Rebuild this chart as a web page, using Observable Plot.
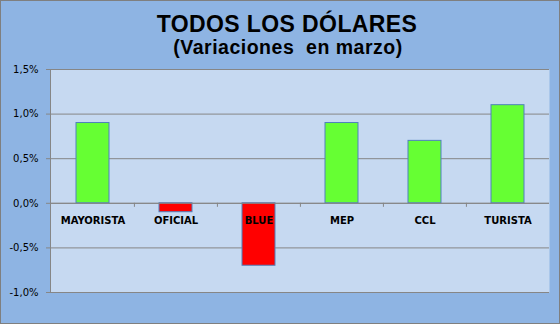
<!DOCTYPE html>
<html>
<head>
<meta charset="utf-8">
<script src="https://cdn.jsdelivr.net/npm/d3@7"></script>
<script src="https://cdn.jsdelivr.net/npm/@observablehq/plot@0.6"></script>
<style>
  html, body { margin: 0; padding: 0; background: #fff; }
  #wrap { position: relative; width: 560px; height: 324px; background: #8EB4E3; box-shadow: inset 0 0 0 1px #7f7f7f; overflow: hidden; }
  #wrap svg { position: absolute; left: 0; top: 0; }
  .t { position: absolute; width: 560px; text-align: center; font-family: "Liberation Sans", Arial, sans-serif; font-weight: bold; color: #000; white-space: nowrap; }
  #title { top: 12.5px; left: 7px; font-size: 23px; line-height: 23px; letter-spacing: 0.4px; }
  #subtitle { top: 37.5px; left: 8px; font-size: 19.5px; line-height: 19.5px; letter-spacing: 0.5px; }
</style>
</head>
<body>
<div id="wrap">
  <div class="t" id="title">TODOS LOS DÓLARES</div>
  <div class="t" id="subtitle">(Variaciones&nbsp; en marzo)</div>
</div>
<script>
const categories = ["MAYORISTA", "OFICIAL", "BLUE", "MEP", "CCL", "TURISTA"];
const values = [0.9, -0.1, -0.7, 0.9, 0.7, 1.1];
const yTicks = [-1, -0.5, 0, 0.5, 1, 1.5];

const data = categories.map((c, i) => ({cat: c, val: values[i]}));

const W = 560, H = 324, mL = 50, mR = 11, mT = 69, mB = 32;
const band = (W - mL - mR) / categories.length;
const fmt = d => d.toFixed(1).replace(".", ",") + "%";

const chart = Plot.plot({
  width: W, height: H,
  marginTop: mT, marginBottom: mB, marginLeft: mL, marginRight: mR,
  style: {background: "transparent", fontFamily: "DejaVu Sans", fontSize: "10px", color: "#000", overflow: "visible"},
  x: {type: "band", domain: categories, padding: 0, axis: null},
  y: {domain: [-1, 1.5], axis: null},
  color: {type: "identity"},
  marks: [
    Plot.frame({fill: "#C6D9F1", stroke: null}),
    Plot.ruleY(yTicks, {stroke: "#868686", strokeWidth: 1}),
    Plot.frame({anchor: "left", stroke: "#868686"}),
    Plot.axisY({ticks: yTicks, tickSize: 4, tickPadding: 8, tickFormat: fmt, label: null, stroke: "#868686", fill: "#000", fontSize: 10}),
    Plot.barY(data, {
      x: "cat", y: "val",
      fill: d => d.val < 0 ? "#FF0000" : "#66FF33",
      stroke: "#4F81BD", strokeWidth: 1,
      insetLeft: 25, insetRight: 25
    }),
    Plot.ruleY([0], {stroke: "#868686", strokeWidth: 1}),
    Plot.ruleX(categories.slice(1), {x: d => d, y1: 0, y2: -0.045, dx: -band / 2, stroke: "#868686"}),
    Plot.text(data, {x: "cat", y: () => 0, text: "cat", dy: 17, fontWeight: "bold", fontSize: 10, fill: "#000"})
  ]
});
document.getElementById("wrap").prepend(chart);
</script>
</body>
</html>
